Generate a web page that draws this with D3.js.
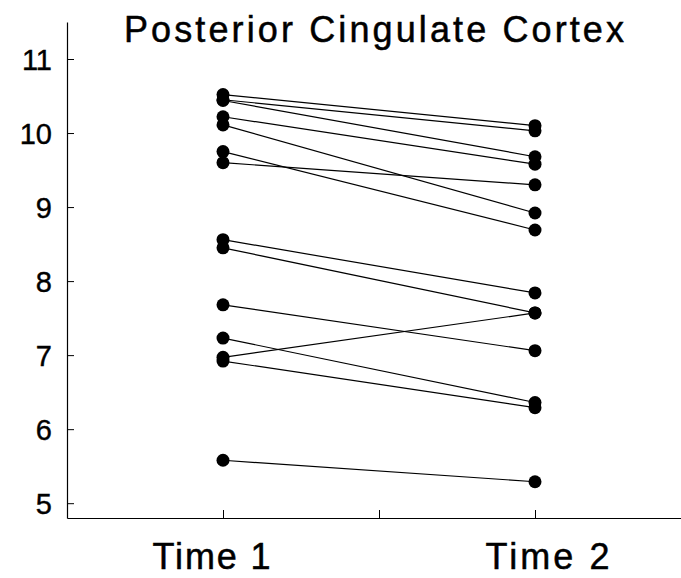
<!DOCTYPE html>
<html>
<head>
<meta charset="utf-8">
<script src="https://cdn.jsdelivr.net/npm/d3@7"></script>
<style>
  html, body { margin: 0; padding: 0; background: #fff; }
  svg { display: block; font-family: "Liberation Sans", Arial, Helvetica, sans-serif; }
</style>
</head>
<body>
<svg id="chart" width="681" height="578"></svg>
<script>
// Paired measurements, one entry per subject (same index = same subject)
const categories = ["Time 1", "Time 2"];
const time1Values = [10.52, 10.45, 10.44, 10.22, 10.11, 9.75, 9.60, 8.56, 8.45, 7.68, 7.23, 6.97, 6.92, 5.58];
const time2Values = [10.10, 10.03, 9.68, 9.58, 8.92, 8.69, 9.30, 7.84, 7.57, 7.06, 6.36, 7.57, 6.29, 5.29];
const yTickValues = [5, 6, 7, 8, 9, 10, 11];
const xTickValues = [1, 1.5, 2];
const titleText = "Posterior Cingulate Cortex";

const svg = d3.select("#chart");

const x = d3.scaleLinear().domain([0.5, 2.5]).range([67, 691]);
const y = d3.scaleLinear().domain([4.8, 11.5]).range([518, 22]);

// Y axis with inward ticks
const yAxis = d3.axisLeft(y).tickValues(yTickValues).tickFormat(d3.format("d"))
  .tickSizeInner(-7).tickSizeOuter(0).tickPadding(15);
const gy = svg.append("g").attr("transform", `translate(${x(0.5)},0)`).call(yAxis);
gy.select(".domain").attr("stroke", "#000").attr("stroke-width", 1.2);
gy.selectAll(".tick line").attr("stroke", "#000").attr("stroke-width", 1);
gy.selectAll(".tick text").attr("fill", "#000").attr("font-size", 29)
  .attr("stroke", "#000").attr("stroke-width", 0.4).attr("dy", "0.36em");

// X axis with inward ticks and category labels
const xAxis = d3.axisBottom(x).tickValues(xTickValues).tickSizeInner(-8).tickSizeOuter(0)
  .tickFormat(d => d === 1 ? categories[0] : d === 2 ? categories[1] : "");
const gx = svg.append("g").attr("transform", `translate(0,${y(4.8)})`).call(xAxis);
gx.select(".domain").attr("stroke", "#000").attr("stroke-width", 1.2);
gx.selectAll(".tick line").attr("stroke", "#000").attr("stroke-width", 1);
gx.selectAll(".tick text").attr("fill", "#000").attr("font-size", 36)
  .attr("stroke", "#000").attr("stroke-width", 0.5)
  .attr("y", 0).attr("dy", 51)
  .attr("dx", d => d === 1 ? -12 : 12)
  .attr("textLength", d => d === 1 ? 118 : 124)
  .attr("lengthAdjust", "spacing");

// Title
svg.append("text")
  .attr("x", 374).attr("y", 42)
  .attr("text-anchor", "middle")
  .attr("font-size", 36)
  .attr("fill", "#000")
  .attr("stroke", "#000").attr("stroke-width", 0.5)
  .attr("textLength", 500)
  .attr("lengthAdjust", "spacing")
  .text(titleText);

// Connecting lines for each subject
const pairs = time1Values.map((v, i) => [v, time2Values[i]]);
svg.append("g").selectAll("line").data(pairs).join("line")
  .attr("x1", x(1)).attr("x2", x(2))
  .attr("y1", d => y(d[0])).attr("y2", d => y(d[1]))
  .attr("stroke", "#000").attr("stroke-width", 1.2);

// Points at each time
const pts = svg.append("g");
pts.selectAll("circle.t1").data(time1Values).join("circle").attr("class", "t1")
  .attr("cx", x(1)).attr("cy", d => y(d)).attr("r", 6.5).attr("fill", "#000");
pts.selectAll("circle.t2").data(time2Values).join("circle").attr("class", "t2")
  .attr("cx", x(2)).attr("cy", d => y(d)).attr("r", 6.5).attr("fill", "#000");
</script>
</body>
</html>
